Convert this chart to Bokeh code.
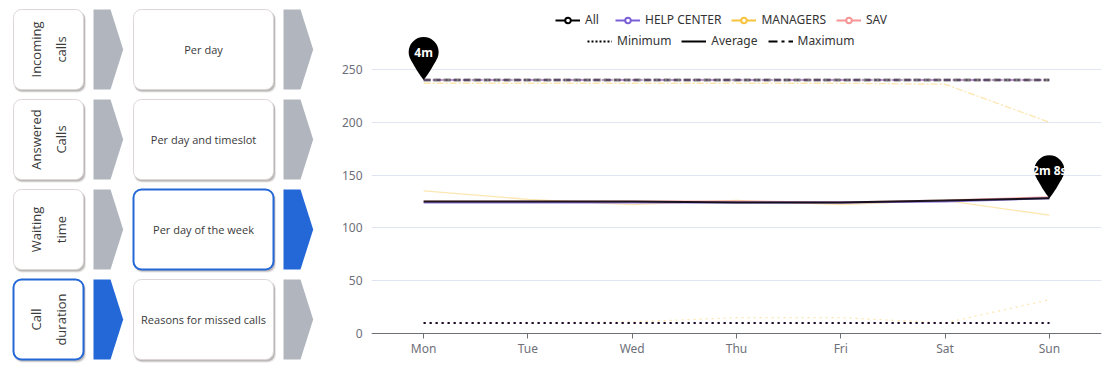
import math
from bokeh.plotting import figure
from bokeh.layouts import row
from bokeh.models import Range1d, FixedTicker, Legend, LegendItem, ColumnDataSource
from bokeh.core.properties import value
from bokeh.embed import file_html
from bokeh.resources import INLINE

# ---------------- data ----------------
days = ["Mon", "Tue", "Wed", "Thu", "Fri", "Sat", "Sun"]
y_ticks = [0, 50, 100, 150, 200, 250]

all_min = [10, 10, 10, 10, 10, 10, 10]
all_avg = [125, 125, 125, 124, 124, 126, 128]
all_max = [240, 240, 240, 240, 240, 240, 240]

help_min = [10, 10, 10, 10, 10, 10, 10]
help_avg = [124, 124, 124, 124, 124, 125, 128]
help_max = [240, 240, 240, 240, 240, 240, 240]

managers_min = [10, 10, 11, 15, 15, 10, 32]
managers_avg = [135, 127, 122, 126, 122, 126, 112]
managers_max = [237, 237, 237, 237, 237, 236, 200]

sav_min = [10, 10, 10, 10, 10, 10, 10]
sav_avg = [125, 125, 125, 125, 124, 126, 129]
sav_max = [240, 240, 240, 240, 240, 240, 240]

series_names = ["All", "HELP CENTER", "MANAGERS", "SAV"]
stat_names = ["Minimum", "Average", "Maximum"]

pin_labels = ["4m", "2m 8s"]
pin_day_index = [0, 6]
pin_values = [all_max[0], all_avg[6]]

nav_main = ["Incoming\ncalls", "Answered\nCalls", "Waiting\ntime", "Call\nduration"]
nav_sub = ["Per day", "Per day and timeslot", "Per day of the week", "Reasons for missed calls"]
nav_main_selected = [False, False, False, True]
nav_sub_selected = [False, False, True, False]

# ---------------- styles ----------------
COLORS = {"All": "#000000", "HELP CENTER": "#7b5fd6", "MANAGERS": "#f7c23c", "SAV": "#f79595"}
BLUE = "#2468d8"
GRAY_ARROW = "#b1b6be"
FONT = "Noto Sans"

PAGE_H = 366      # total height of both figures
TOP = 8           # shared top border of both figures

# ---------------- left navigation panel ----------------
NAV_W = 320
NAV_FH = PAGE_H - TOP
nav = figure(width=NAV_W, height=PAGE_H,
             x_range=Range1d(0, NAV_W), y_range=Range1d(0, NAV_FH),
             x_axis_type=None, y_axis_type=None,
             min_border_left=0, min_border_right=0, min_border_top=TOP, min_border_bottom=0,
             outline_line_color=None, toolbar_location=None, output_backend="svg")
nav.xgrid.visible = False
nav.ygrid.visible = False


def Y(py):
    # page y (downwards) -> nav data y (upwards)
    return PAGE_H - py


row_pitch, card_h, top0 = 90, 80, 9
col1 = (13, 83)
col2 = (133, 273)
arrow_x = [93, 283]


def card(l, r, t, b, sel):
    nav.quad(left=l + 0.5, right=r + 2.5, top=Y(t + 2), bottom=Y(b + 3),
             fill_color="#6e6060", fill_alpha=0.15, line_color=None, border_radius=8)
    nav.quad(left=l + 1, right=r + 1.5, top=Y(t + 1.5), bottom=Y(b + 2),
             fill_color="#6e6060", fill_alpha=0.35, line_color=None, border_radius=8)
    nav.quad(left=l, right=r, top=Y(t), bottom=Y(b), fill_color="white",
             line_color=BLUE if sel else "#ddd6d6", line_width=2 if sel else 1, border_radius=8)


def arrow(x0, t, b, sel):
    m = (t + b) / 2
    xs = [x0, x0 + 17, x0 + 29.7, x0 + 17, x0]
    ys = [Y(t), Y(t), Y(m), Y(b), Y(b)]
    nav.patch(xs, ys, fill_color=BLUE if sel else GRAY_ARROW, line_color=None)


for i in range(4):
    t = top0 + i * row_pitch
    b = t + card_h
    card(col1[0], col1[1], t, b, nav_main_selected[i])
    nav.text(x=[(col1[0] + col1[1]) / 2], y=[Y((t + b) / 2)], text=[nav_main[i]], angle=math.pi / 2,
             text_align="center", text_baseline="middle", text_font=value("Open Sans"),
             text_font_size="13px", text_color="#3a3a3a", text_line_height=1.35)
    arrow(arrow_x[0], t, b, nav_main_selected[i])
    card(col2[0], col2[1], t, b, nav_sub_selected[i])
    nav.text(x=[(col2[0] + col2[1]) / 2], y=[Y((t + b) / 2)], text=[nav_sub[i]],
             text_align="center", text_baseline="middle", text_font=value("Open Sans"),
             text_font_size="11px", text_color="#3a3a3a")
    arrow(arrow_x[1], t, b, nav_sub_selected[i])

# ---------------- chart ----------------
W = 792
BL, BR = 51, 11
FRAME_W = W - BL - BR
FRAME_H = PAGE_H - TOP
AXIS_Y = 333                         # page y of value 0
px_y = 264 / 250                     # pixels per y unit
px_x = FRAME_W / len(days)           # pixels per x unit
Y_TOP = (AXIS_Y - TOP) / px_y
Y_BOT = -(PAGE_H - AXIS_Y) / px_y

p = figure(width=W, height=PAGE_H, x_range=Range1d(-0.5, len(days) - 0.5), y_range=Range1d(Y_BOT, Y_TOP),
           output_backend="svg", toolbar_location=None, min_border_left=BL, min_border_right=BR,
           min_border_top=TOP, min_border_bottom=0, outline_line_color=None)

xi = list(range(len(days)))

p.xaxis.fixed_location = 0
p.xaxis.ticker = FixedTicker(ticks=xi)
p.xaxis.major_label_overrides = {i: d for i, d in enumerate(days)}
p.xaxis.axis_line_color = "#6e7079"
p.xaxis.major_tick_line_color = "#6e7079"
p.xaxis.major_tick_out = 5
p.xaxis.major_tick_in = 0
p.xaxis.minor_tick_line_color = None
p.xaxis.major_label_text_color = "#6e7079"
p.xaxis.major_label_text_font = FONT
p.xaxis.major_label_text_font_size = "12px"
p.xaxis.major_label_standoff = 1

p.yaxis.ticker = FixedTicker(ticks=y_ticks)
p.yaxis.axis_line_color = None
p.yaxis.major_tick_line_color = None
p.yaxis.minor_tick_line_color = None
p.yaxis.major_tick_out = 0
p.yaxis.major_label_text_color = "#6e7079"
p.yaxis.major_label_text_font = FONT
p.yaxis.major_label_text_font_size = "12px"
p.yaxis.major_label_standoff = 9

p.xgrid.visible = False
p.ygrid.ticker = FixedTicker(ticks=y_ticks)
p.ygrid.grid_line_color = "#e0e6f1"

DASH = {"Minimum": "dotted", "Average": "solid", "Maximum": "7 2 2 2"}
data = {
    "MANAGERS": (managers_min, managers_avg, managers_max),
    "SAV": (sav_min, sav_avg, sav_max),
    "HELP CENTER": (help_min, help_avg, help_max),
    "All": (all_min, all_avg, all_max),
}
for name, stats in data.items():
    for stat, vals in zip(stat_names, stats):
        if name == "MANAGERS":
            lw, alpha, dash = 1.3, 0.4, DASH[stat]
        elif stat == "Maximum":
            lw, alpha = (3, 0.5) if name == "All" else (2, 0.5)
            dash = "7 3" if name == "All" else "7 2 2 2"
        else:
            lw, alpha, dash = 2, 0.85, DASH[stat]
        p.line(xi, vals, line_color=COLORS[name], line_width=lw, line_alpha=alpha, line_dash=dash)

# pins (mark points)
pin_src = ColumnDataSource(dict(
    x=pin_day_index,
    yc=[v + 28 / px_y for v in pin_values],
    label=pin_labels,
))
tail_off = [(-12.6, 19.9), (-7, 10), (-3, 4), (0, 0), (3, 4), (7, 10), (12.6, 19.9), (0, 28)]
for xi_p, v in zip(pin_day_index, pin_values):
    p.patch([xi_p + dx / px_x for dx, dy in tail_off], [v + dy / px_y for dx, dy in tail_off],
            fill_color="black", line_color=None)
p.scatter("x", "yc", source=pin_src, size=30, fill_color="black", line_color=None)
p.text("x", "yc", text="label", source=pin_src, text_color="white", text_align="center",
       text_baseline="middle", text_font=value(FONT), text_font_size="12px", text_font_style="bold")

# legends
nan = float("nan")
items1 = []
for name in series_names:
    lr = p.line([nan], [nan], line_color=COLORS[name], line_width=2)
    sr = p.scatter([nan], [nan], size=10, fill_color="white", line_color=COLORS[name], line_width=2)
    items1.append(LegendItem(label=name, renderers=[lr, sr]))
items2 = []
leg_dash = {"Minimum": "2 2", "Average": "solid", "Maximum": "9 4 3 4"}
for stat in stat_names:
    lr = p.line([nan], [nan], line_color="black", line_width=2, line_dash=leg_dash[stat])
    items2.append(LegendItem(label=stat, renderers=[lr]))


def make_legend(items, loc):
    lg = Legend(items=items, location=loc, orientation="horizontal", glyph_width=25, glyph_height=14,
                label_standoff=5, spacing=10, padding=0, margin=0, border_line_color=None,
                background_fill_alpha=0, label_text_font=FONT, label_text_font_size="12px",
                label_text_color="#333333", label_height=14)
    p.add_layout(lg)
    return lg


# legend positions: (x from frame left, y of legend bottom from frame bottom)
make_legend(items1, (184, 305 + (PAGE_H - AXIS_Y)))
make_legend(items2, (216, 284 + (PAGE_H - AXIS_Y)))

layout = row(nav, p)
open("out.html", "w").write(file_html(layout, INLINE))
